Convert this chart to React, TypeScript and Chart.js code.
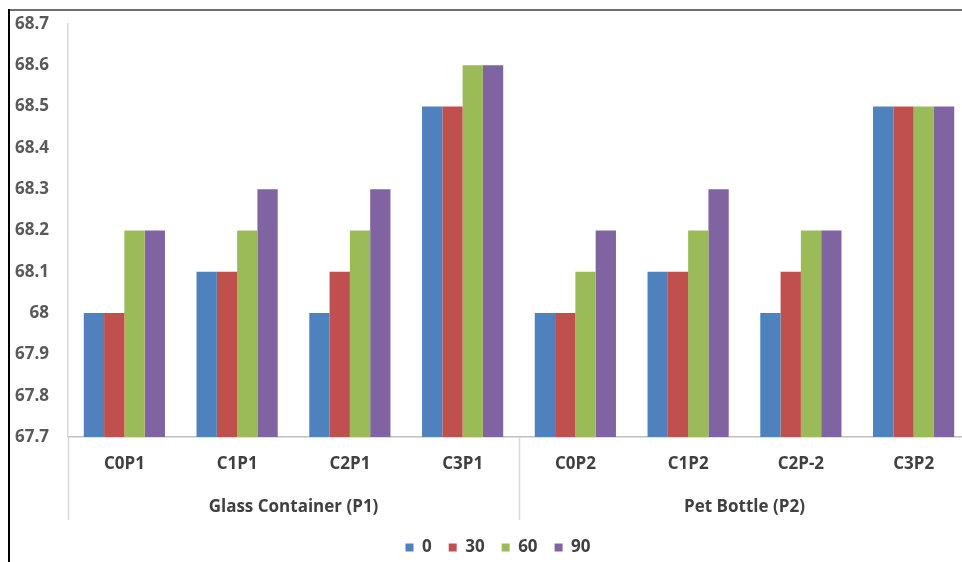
import React, { useEffect, useRef } from "react";
import { Chart, registerables } from "chart.js";

Chart.register(...registerables);

// Categories along the x axis and the two packaging groups they belong to
const CATEGORIES = ["C0P1", "C1P1", "C2P1", "C3P1", "C0P2", "C1P2", "C2P-2", "C3P2"];
const GROUP_LABELS = ["Glass Container (P1)", "Pet Bottle (P2)"];
const GROUP_SIZES = [4, 4];

// Storage period series
const SERIES_NAMES = ["0", "30", "60", "90"];
const SERIES_0 = [68.0, 68.1, 68.0, 68.5, 68.0, 68.1, 68.0, 68.5];
const SERIES_30 = [68.0, 68.1, 68.1, 68.5, 68.0, 68.1, 68.1, 68.5];
const SERIES_60 = [68.2, 68.2, 68.2, 68.6, 68.1, 68.2, 68.2, 68.5];
const SERIES_90 = [68.2, 68.3, 68.3, 68.6, 68.2, 68.3, 68.2, 68.5];
const SERIES_COLORS = ["#4F81BD", "#C0504D", "#9BBB59", "#8064A2"];

// Value axis
const Y_MIN = 67.7;
const Y_MAX = 68.7;
const Y_TICKS = [67.7, 67.8, 67.9, 68.0, 68.1, 68.2, 68.3, 68.4, 68.5, 68.6, 68.7];

const FONT_FAMILY = "'Open Sans', Lato, sans-serif";
const FONT_SIZE = 17;
const TEXT_DARK = "#404040";
const TEXT_GRAY = "#595959";
const AXIS_LINE = "#d9d9d9";

// The drawing surface runs a little past the visible frame; the wrapper
// clips the excess on the right and at the bottom.
const VIEW_W = 962;
const VIEW_H = 562;
const CANVAS_W = 970;
const CANVAS_H = 566;
const LEGEND_SHIFT = 13;

// Outer frame: black left edge and gray top edge
const framePlugin = {
  id: "frame",
  afterDraw(chart: any) {
    const ctx = chart.ctx;
    ctx.save();
    ctx.strokeStyle = "#6e6e6e";
    ctx.lineWidth = 2;
    ctx.beginPath();
    ctx.moveTo(9, 10);
    ctx.lineTo(VIEW_W, 10);
    ctx.stroke();
    ctx.strokeStyle = "#000000";
    ctx.beginPath();
    ctx.moveTo(9, 9);
    ctx.lineTo(9, CANVAS_H);
    ctx.stroke();
    ctx.restore();
  },
};

// Nudge the legend block to the right of the canvas centre
const legendOffsetPlugin = {
  id: "legendOffset",
  afterLayout(chart: any) {
    const lg = chart.legend;
    if (lg) {
      lg.left += LEGEND_SHIFT;
      lg.right += LEGEND_SHIFT;
    }
  },
};

// Second level of the category axis: group separators and group names
const groupPlugin = {
  id: "groupAxis",
  afterDraw(chart: any) {
    const { ctx, chartArea } = chart;
    const x = chart.scales.x;
    const top = chartArea.bottom;
    const bottom = chartArea.bottom + 83;
    ctx.save();
    ctx.strokeStyle = AXIS_LINE;
    ctx.lineWidth = 1.5;
    let start = 0;
    const edges: number[] = [x.getPixelForValue(-0.5)];
    GROUP_SIZES.forEach((n) => {
      start += n;
      edges.push(x.getPixelForValue(start - 0.5));
    });
    edges.forEach((px) => {
      ctx.beginPath();
      ctx.moveTo(Math.round(px) + 0.5, top);
      ctx.lineTo(Math.round(px) + 0.5, bottom);
      ctx.stroke();
    });
    ctx.fillStyle = TEXT_DARK;
    ctx.font = `bold ${FONT_SIZE}px ${FONT_FAMILY}`;
    ctx.textAlign = "center";
    ctx.textBaseline = "middle";
    GROUP_LABELS.forEach((label, i) => {
      const cx = (edges[i] + edges[i + 1]) / 2;
      ctx.fillText(label, cx, chartArea.bottom + 70);
    });
    ctx.restore();
  },
};

export default function App() {
  const canvasRef = useRef<HTMLCanvasElement | null>(null);

  useEffect(() => {
    const canvas = canvasRef.current;
    if (!canvas) return;
    const seriesValues = [SERIES_0, SERIES_30, SERIES_60, SERIES_90];
    const font = { family: FONT_FAMILY, size: FONT_SIZE, weight: "bold" };
    const chart = new Chart(canvas, {
      type: "bar",
      data: {
        labels: CATEGORIES,
        datasets: SERIES_NAMES.map((name, i) => ({
          label: name,
          data: seriesValues[i],
          backgroundColor: SERIES_COLORS[i],
          borderWidth: 0,
          base: Y_MIN,
          categoryPercentage: 0.72,
          barPercentage: 1.0,
        })),
      },
      options: {
        responsive: false,
        maintainAspectRatio: false,
        animation: false,
        devicePixelRatio: 1,
        layout: { padding: { top: 24, left: 0, right: 0, bottom: 0 } },
        scales: {
          x: {
            grid: { display: false, drawTicks: false },
            border: { display: true, color: "#bfbfbf", width: 1.5 },
            ticks: {
              color: TEXT_DARK,
              font,
              padding: 17,
              autoSkip: false,
              maxRotation: 0,
            },
            afterFit: (scale: any) => {
              scale.height = 85;
            },
          },
          y: {
            min: Y_MIN,
            max: Y_MAX,
            grid: { display: false, drawTicks: false },
            border: { display: true, color: AXIS_LINE, width: 1.5 },
            ticks: {
              color: TEXT_GRAY,
              font,
              padding: 19,
              callback: (v: any) => String(Number(Number(v).toFixed(1))),
            },
            afterBuildTicks: (axis: any) => {
              axis.ticks = Y_TICKS.map((v) => ({ value: v }));
            },
            afterFit: (scale: any) => {
              scale.width = 68;
              // the top label may overhang the plot; the layout padding covers it
              scale.paddingTop = 0;
              scale.paddingBottom = 0;
            },
          },
        },
        plugins: {
          legend: {
            position: "bottom",
            labels: {
              boxWidth: 8,
              boxHeight: 8,
              padding: 17,
              color: TEXT_DARK,
              font,
            },
          },
          tooltip: { enabled: false },
        },
      } as any,
      plugins: [groupPlugin, framePlugin, legendOffsetPlugin],
    });
    return () => chart.destroy();
  }, []);

  return (
    <div
      style={{
        position: "fixed",
        left: 0,
        top: 0,
        width: VIEW_W,
        height: VIEW_H,
        overflow: "hidden",
        background: "#ffffff",
      }}
    >
      <canvas
        ref={canvasRef}
        width={CANVAS_W}
        height={CANVAS_H}
        style={{ display: "block", width: CANVAS_W, height: CANVAS_H }}
      />
    </div>
  );
}
